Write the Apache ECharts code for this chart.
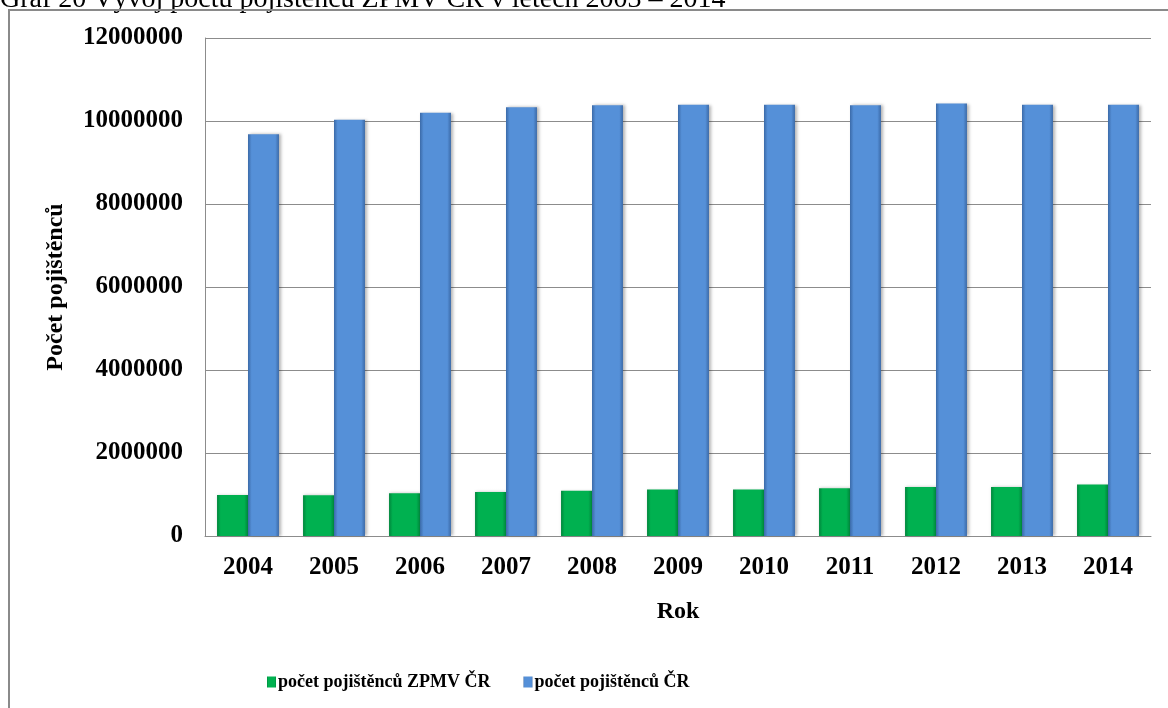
<!DOCTYPE html>
<html>
<head>
<meta charset="utf-8">
<script src="https://cdn.jsdelivr.net/npm/echarts@6/dist/echarts.min.js"></script>
<style>
html,body{margin:0;padding:0;background:#fff;}
#chart{width:1168px;height:708px;}
</style>
</head>
<body>
<div id="chart"></div>
<script>
const years = ['2004','2005','2006','2007','2008','2009','2010','2011','2012','2013','2014'];
const zpmv = [990000, 980000, 1030000, 1060000, 1090000, 1120000, 1120000, 1150000, 1180000, 1180000, 1240000];
const cr = [9680000, 10030000, 10200000, 10330000, 10380000, 10390000, 10390000, 10380000, 10420000, 10390000, 10390000];
const yTicks = [0, 2000000, 4000000, 6000000, 8000000, 10000000, 12000000];
const seriesNames = ['počet pojištěnců ZPMV ČR', 'počet pojištěnců ČR'];
const captionText = 'Graf 20 Vývoj počtu pojištěnců ZPMV ČR v letech 2003 – 2014';

const FONT = '"Liberation Serif", "Times New Roman", serif';

function grad(edge, mid) {
  return new echarts.graphic.LinearGradient(0, 0, 1, 0, [
    {offset: 0, color: edge},
    {offset: 0.12, color: mid},
    {offset: 0.88, color: mid},
    {offset: 1, color: edge}
  ]);
}

const chart = echarts.init(document.getElementById('chart'), null, {renderer: 'canvas'});
chart.setOption({
  animation: false,
  backgroundColor: '#ffffff',
  textStyle: {fontFamily: FONT},
  graphic: [
    {
      type: 'text', x: 0, y: 14, z: 10,
      style: {text: captionText, font: '28px ' + FONT, fill: '#000', verticalAlign: 'bottom'}
    },
    {
      type: 'rect', shape: {x: 9, y: 10, width: 1180, height: 730}, z: 11,
      style: {fill: 'none', stroke: '#8a8a8a', lineWidth: 2}, silent: true
    }
  ],
  grid: {left: 205, right: 17, top: 38, bottom: 172, containLabel: false},
  legend: {
    bottom: 12,
    left: 262,
    itemWidth: 9, itemHeight: 11, itemGap: 33,
    icon: 'rect',
    textStyle: {fontFamily: FONT, fontWeight: 'bold', fontSize: 18, color: '#000', padding: [0, 0, 0, -3]},
    data: seriesNames
  },
  xAxis: {
    type: 'category',
    data: years,
    name: 'Rok',
    nameLocation: 'middle',
    nameGap: 64,
    nameTextStyle: {fontFamily: FONT, fontWeight: 'bold', fontSize: 24, color: '#000'},
    axisLine: {lineStyle: {color: '#8c8c8c', width: 1}},
    axisTick: {show: false},
    axisLabel: {fontFamily: FONT, fontWeight: 'bold', fontSize: 25, color: '#000', margin: 19}
  },
  yAxis: {
    type: 'value',
    min: yTicks[0], max: yTicks[yTicks.length - 1], interval: 2000000,
    name: 'Počet pojištěnců',
    nameLocation: 'middle',
    nameRotate: 90,
    nameGap: 137,
    nameTextStyle: {fontFamily: FONT, fontWeight: 'bold', fontSize: 24, color: '#000'},
    axisLine: {show: true, lineStyle: {color: '#8c8c8c', width: 1}},
    axisTick: {show: false},
    splitLine: {lineStyle: {color: '#8c8c8c', width: 1}},
    axisLabel: {fontFamily: FONT, fontWeight: 'bold', fontSize: 25, color: '#000', margin: 22,
      formatter: function (v) { return String(v); }}
  },
  series: [
    {
      name: seriesNames[0], type: 'bar', data: zpmv,
      barGap: '0%', barCategoryGap: '28%',
      itemStyle: {color: grad('#00863c', '#00b150'), shadowColor: 'rgba(0,0,0,0.25)', shadowBlur: 3, shadowOffsetX: 1}
    },
    {
      name: seriesNames[1], type: 'bar', data: cr,
      itemStyle: {color: grad('#3b6aa8', '#5590d8'), shadowColor: 'rgba(0,0,0,0.3)', shadowBlur: 3, shadowOffsetX: 2}
    }
  ]
});
</script>
</body>
</html>
